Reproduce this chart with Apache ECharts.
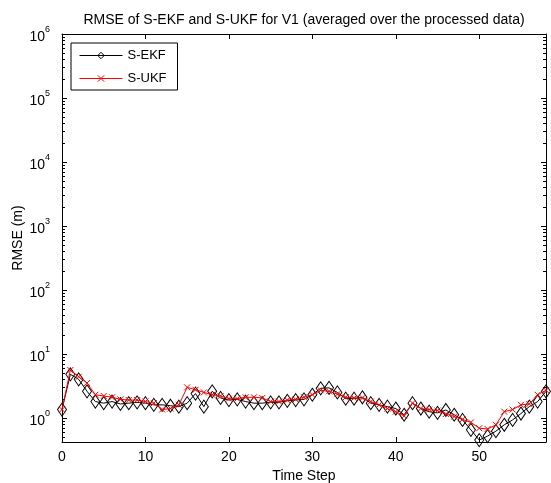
<!DOCTYPE html>
<html>
<head>
<meta charset="utf-8">
<script src="https://cdn.jsdelivr.net/npm/echarts@6/dist/echarts.min.js"></script>
<style>
html,body{margin:0;padding:0;background:#fff;}
#c{width:551px;height:483px;}
</style>
</head>
<body>
<div id="c"></div>
<script>
const timeSteps = [0,1,2,3,4,5,6,7,8,9,10,11,12,13,14,15,16,17,18,19,20,21,22,23,24,25,26,27,28,29,30,31,32,33,34,35,36,37,38,39,40,41,42,43,44,45,46,47,48,49,50,51,52,53,54,55,56,57,58];
const ekf = [1.35,4.8,4.0,2.6,1.8,1.7,1.8,1.65,1.7,1.75,1.7,1.6,1.6,1.55,1.5,1.7,2.4,1.5,2.6,2.05,1.9,1.95,1.8,1.7,1.7,1.75,1.75,1.85,1.9,1.95,2.3,2.9,2.95,2.5,2.0,2.0,2.1,1.7,1.6,1.5,1.4,1.12,1.7,1.4,1.25,1.2,1.33,1.12,0.93,0.65,0.45,0.52,0.62,0.78,0.93,1.17,1.5,1.8,2.6];
const ukf = [1.35,5.6,4.4,3.5,2.3,2.2,2.1,1.95,1.9,1.9,1.8,1.7,1.35,1.4,1.6,3.0,2.75,2.5,2.3,2.2,2.0,2.0,2.1,2.1,2.05,1.8,1.8,1.9,1.95,2.1,2.3,2.7,2.6,2.35,2.1,2.05,2.05,1.8,1.6,1.4,1.25,1.07,1.7,1.4,1.35,1.3,1.15,1.05,0.95,0.85,0.69,0.67,0.78,1.25,1.35,1.6,1.65,2.3,2.7];
const seriesNames = ['S-EKF','S-UKF'];
const titleText = 'RMSE of S-EKF and S-UKF for V1 (averaged over the processed data)';
const xName = 'Time Step';
const yName = 'RMSE (m)';
const xTicks = [0,10,20,30,40,50];
const yMin = 0.42, yMax = 1e6, xMin = 0, xMax = 58;

const minorVals = [];
for (let k = -1; k <= 5; k++) {
  for (let m = 2; m <= 9; m++) {
    const v = m * Math.pow(10, k);
    if (v > yMin && v < yMax) minorVals.push(v);
  }
}

const FONT = '"Liberation Sans", Arial, sans-serif';
const chart = echarts.init(document.getElementById('c'), null, {renderer: 'canvas'});

function powLabel(v) {
  const e = Math.log10(v);
  const r = Math.round(e);
  if (Math.abs(e - r) > 1e-6) return '';
  return '{b|10}{e|' + r + '}';
}

const xMark = 'path://M0,0L10,10M10,0L0,10';

chart.setOption({
  backgroundColor: '#ffffff',
  animation: false,
  textStyle: {fontFamily: FONT},
  title: {
    text: titleText,
    left: 299, top: 8, textAlign: 'center',
    textStyle: {fontFamily: FONT, fontSize: 14, fontWeight: 'normal', color: '#000'}
  },
  legend: {
    left: 71, top: 43,
    orient: 'vertical',
    borderColor: '#000', borderWidth: 1,
    padding: [6, 11, 5, 8],
    itemWidth: 43, itemHeight: 8, itemGap: 10,
    textStyle: {fontFamily: FONT, fontSize: 13, color: '#000'},
    lineStyle: {width: 1},
    itemStyle: {borderWidth: 1},
    data: seriesNames
  },
  grid: {left: 62, right: 5, top: 34, bottom: 41, containLabel: false, outerBoundsMode: 'none'},
  xAxis: [{
    type: 'value', min: xMin, max: xMax, interval: 10,
    name: xName, nameLocation: 'middle', nameGap: 27, nameMoveOverlap: false,
    nameTextStyle: {fontFamily: FONT, fontSize: 14, color: '#000'},
    axisLine: {show: true, lineStyle: {color: '#000', width: 1}},
    axisTick: {show: true, inside: true, length: 5, lineStyle: {color: '#000'}},
    axisLabel: {color: '#000', fontFamily: FONT, fontSize: 14, margin: 8, showMaxLabel: false,
      formatter: function (v) { return xTicks.indexOf(v) >= 0 ? String(v) : ''; }},
    splitLine: {show: false}
  }, {
    type: 'value', min: xMin, max: xMax, interval: 10, position: 'top',
    axisLine: {show: true, onZero: false, lineStyle: {color: '#000', width: 1}},
    axisTick: {show: true, inside: true, length: 5, lineStyle: {color: '#000'}},
    axisLabel: {show: false},
    splitLine: {show: false}
  }],
  yAxis: [{
    type: 'log', logBase: 10, min: yMin, max: yMax, splitNumber: 6,
    name: yName, nameLocation: 'middle', nameGap: 37, nameRotate: 90, nameMoveOverlap: false,
    nameTextStyle: {fontFamily: FONT, fontSize: 14, color: '#000'},
    axisLine: {show: true, onZero: false, lineStyle: {color: '#000', width: 1}},
    axisTick: {show: true, inside: true, length: 5, lineStyle: {color: '#000'}},
    axisLabel: {
      color: '#000', margin: 12, showMinLabel: false,
      formatter: powLabel,
      rich: {
        b: {fontFamily: FONT, fontSize: 14, color: '#000', padding: [6, 0, 0, 0]},
        e: {fontFamily: FONT, fontSize: 9, color: '#000', padding: [0, 0, 9, 0]}
      }
    },
    splitLine: {show: false}
  }, {
    type: 'log', logBase: 10, min: yMin, max: yMax, splitNumber: 6, position: 'right',
    axisLine: {show: true, onZero: false, lineStyle: {color: '#000', width: 1}},
    axisTick: {show: true, inside: true, length: 5, lineStyle: {color: '#000'}},
    axisLabel: {show: false},
    splitLine: {show: false}
  }],
  series: [{
    name: 'minor',
    type: 'custom',
    silent: true,
    xAxisIndex: 0, yAxisIndex: 0,
    data: minorVals.map(function (v) { return [xMin, v]; }),
    renderItem: function (params, api) {
      const v = api.value(1);
      const pl = api.coord([xMin, v]);
      const pr = api.coord([xMax, v]);
      const y = Math.round(pl[1]) + 0.5;
      return {
        type: 'group',
        children: [
          {type: 'line', shape: {x1: pl[0], y1: y, x2: pl[0] + 3, y2: y}, style: {stroke: '#000', lineWidth: 1}},
          {type: 'line', shape: {x1: pr[0], y1: y, x2: pr[0] - 3, y2: y}, style: {stroke: '#000', lineWidth: 1}}
        ]
      };
    },
    z: 1
  }, {
    name: seriesNames[0],
    type: 'line',
    data: timeSteps.map(function (t, i) { return [t, ekf[i]]; }),
    symbol: 'diamond', symbolSize: [9, 13],
    lineStyle: {color: '#000', width: 1},
    itemStyle: {color: 'rgba(0,0,0,0)', borderColor: '#000', borderWidth: 1},
    z: 3
  }, {
    name: seriesNames[1],
    type: 'line',
    data: timeSteps.map(function (t, i) { return [t, ukf[i]]; }),
    symbol: xMark, symbolSize: 6,
    lineStyle: {color: '#ff0000', width: 1},
    itemStyle: {color: 'rgba(0,0,0,0)', borderColor: '#ff0000', borderWidth: 1},
    z: 4
  }]
});
</script>
</body>
</html>
